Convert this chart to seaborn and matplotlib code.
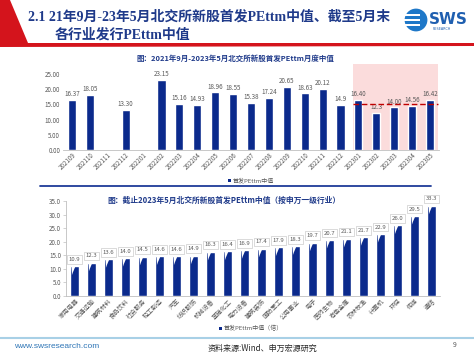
import numpy as np
import pandas as pd
import matplotlib
matplotlib.use('Agg')
import matplotlib.pyplot as plt
from matplotlib.patches import Polygon, Rectangle, Circle
from matplotlib.lines import Line2D
import seaborn as sns

# monthly median PE (ttm) of new listings on the BSE, blank = no listing that month
months = ['202109', '202110', '202111', '202112', '202201', '202202', '202203',
          '202204', '202205', '202206', '202207', '202208', '202209', '202210',
          '202211', '202212', '202301', '202302', '202303', '202304', '202305']
month_pe_text = ['16.37', '18.05', '', '13.30', '', '23.15', '15.16',
                 '14.93', '18.96', '18.55', '15.38', '17.24', '20.65', '18.63',
                 '20.12', '14.9', '16.40', '12.3', '14.00', '14.56', '16.42']
recent_ref = 15.1  # red dashed reference over 2023 months

# median issue PE by SW level-1 industry
industries = ['家用电器', '交通运输', '建筑材料', '食品饮料', '社会服务', '轻工制造',
              '汽车', '纺织服饰', '机械设备', '基础化工', '电力设备', '建筑装饰',
              '国防军工', '公用事业', '电子', '医药生物', '有色金属', '农林牧渔',
              '计算机', '环保', '传媒', '通信']
industry_pe = [10.9, 12.3, 13.6, 14.0, 14.5, 14.6, 14.6, 14.9, 16.3, 16.4, 16.9,
               17.4, 17.9, 18.3, 19.7, 20.7, 21.1, 21.7, 22.9, 26.0, 29.5, 33.3]

NAVY = '#0b2a8c'
GRAY = '#595959'
TITLE_BLUE = '#1f3a8a'
CJK = ['Noto Sans CJK SC', 'DejaVu Sans']
SERIF = ['Liberation Serif', 'Noto Sans CJK SC']

sns.set_style('white')
plt.rcParams['font.family'] = CJK
plt.rcParams['axes.unicode_minus'] = False

W, H = 474, 355
fig = plt.figure(figsize=(W / 100, H / 100), dpi=100)


def fx(x):
    return x / W


def fy(y):
    return 1 - y / H


def box(x0, y0, x1, y1):
    return [fx(x0), fy(y1), (x1 - x0) / W, (y1 - y0) / H]


# header: red slanted frame + title
red = Polygon([(fx(0), fy(0)), (fx(10), fy(0)), (fx(28), fy(43)), (fx(474), fy(43)),
               (fx(474), fy(46)), (fx(0), fy(47))],
              closed=True, transform=fig.transFigure, fc='#d4141c', ec='none')
fig.patches.append(red)
fig.text(fx(28), fy(17), '2.1 21年9月-23年5月北交所新股首发PEttm中值、截至5月末',
         fontsize=10, fontweight='bold', color=TITLE_BLUE, va='center', family=SERIF)
fig.text(fx(55), fy(35), '各行业发行PEttm中值',
         fontsize=10, fontweight='bold', color=TITLE_BLUE, va='center', family=SERIF)

# logo
lax = fig.add_axes(box(404, 8, 428, 32))
lax.set_xlim(-1, 1)
lax.set_ylim(-1, 1)
lax.set_aspect('equal')
lax.axis('off')
lax.add_patch(Circle((0, 0), 0.95, fc='#1f78c8', ec='none'))
for yy in [-0.45, 0.0, 0.45]:
    lax.add_patch(Rectangle((-1, yy - 0.08), 1.3, 0.16, fc='white', ec='none'))
fig.text(fx(429), fy(19), 'SWS', fontsize=11, fontweight='bold', color='#1f5fb0',
         va='center', family=['DejaVu Sans'])
fig.text(fx(433), fy(29.5), 'RESEARCH', fontsize=2.4, color='#1f5fb0', va='center',
         family=['DejaVu Sans'])

# ---- top chart ----
fig.text(fx(235), fy(58), '图：2021年9月-2023年5月北交所新股首发PEttm月度中值',
         fontsize=5.4, fontweight='bold', color=TITLE_BLUE, ha='center', va='center')

month_pe = [float(s) if s else np.nan for s in month_pe_text]
df1 = pd.DataFrame({'month': months, 'pe': month_pe})
ax1 = fig.add_axes(box(63, 74, 439, 150))
sns.barplot(data=df1, x='month', y='pe', order=months, color=NAVY, saturation=1,
            width=0.45, ax=ax1, zorder=2)
ax1.set_ylim(0, 25)
ax1.set_yticks(np.arange(0, 26, 5))
ax1.set_yticklabels([f'{v:.2f}' for v in np.arange(0, 26, 5)])
ax1.set_xlim(-0.5, len(months) - 0.5)
ax1.set_xlabel('')
ax1.set_ylabel('')
for s in ['left', 'top', 'right']:
    ax1.spines[s].set_visible(False)
ax1.spines['bottom'].set_color('#bfbfbf')
ax1.spines['bottom'].set_linewidth(0.6)
ax1.set_xticks(np.arange(-0.5, len(months)), minor=True)
ax1.tick_params(axis='x', which='minor', length=2, color='#bfbfbf', width=0.5)
ax1.tick_params(axis='x', which='major', length=0, pad=1)
ax1.tick_params(axis='y', length=0, pad=2, labelsize=4.5, labelcolor=GRAY)
plt.setp(ax1.get_xticklabels(), rotation=45, ha='right', rotation_mode='anchor',
         fontsize=4.5, color=GRAY)
for i, (v, t) in enumerate(zip(month_pe, month_pe_text)):
    if t:
        ax1.text(i, v + 0.6, t, ha='center', va='bottom', fontsize=4.5, color=GRAY)
ax1.add_patch(Rectangle((15.7, 0), 4.75, 28.3, fc='#fbdcdc', ec='none',
                        clip_on=False, zorder=0.5))
ax1.plot([15.7, 20.45], [recent_ref, recent_ref], ls=(0, (4, 2)), color='#c00000',
         lw=1.0, clip_on=False, zorder=3)
ax1.set_facecolor('none')

fig.patches.append(Rectangle((fx(228), fy(181.5)), 3 / W, 3 / H, transform=fig.transFigure,
                             fc=NAVY, ec='none'))
fig.text(fx(232.5), fy(180), '首发PEttm中值', fontsize=4.3, color=GRAY, va='center')
fig.add_artist(Line2D([fx(40), fx(431)], [fy(186), fy(186)], color='#1f3c99', lw=1.3))

# ---- bottom chart ----
fig.text(fx(224), fy(200), '图：截止2023年5月北交所新股首发PEttm中值（按申万一级行业）',
         fontsize=5.6, fontweight='bold', color=TITLE_BLUE, ha='center', va='center')

df2 = pd.DataFrame({'industry': industries, 'pe': industry_pe})
ax2 = fig.add_axes(box(66, 201, 440, 296))
sns.barplot(data=df2, x='industry', y='pe', order=industries, color=NAVY, saturation=1,
            width=0.5, ax=ax2, zorder=2)
ax2.set_ylim(0, 35)
ax2.set_yticks(np.arange(0, 36, 5))
ax2.set_yticklabels([f'{v:.1f}' for v in np.arange(0, 36, 5)])
ax2.set_xlim(-0.5, len(industries) - 0.5)
ax2.set_xlabel('')
ax2.set_ylabel('')
for s in ['top', 'right']:
    ax2.spines[s].set_visible(False)
for s in ['left', 'bottom']:
    ax2.spines[s].set_color('#bfbfbf')
    ax2.spines[s].set_linewidth(0.6)
ax2.set_xticks(np.arange(-0.5, len(industries)), minor=True)
ax2.tick_params(axis='x', which='minor', length=2, color='#bfbfbf', width=0.5)
ax2.tick_params(axis='x', which='major', length=0, pad=1)
ax2.tick_params(axis='y', length=2, color='#bfbfbf', width=0.5, pad=1.5,
                labelsize=4.5, labelcolor=GRAY, left=True)
plt.setp(ax2.get_xticklabels(), rotation=45, ha='right', rotation_mode='anchor',
         fontsize=4.5, color=GRAY)
for i, v in enumerate(industry_pe):
    ax2.annotate(f'{v:.1f}', xy=(i - 0.15, v - 3.2), xytext=(i, v + 2.5),
                 ha='center', va='center', fontsize=4.3, color=GRAY, zorder=4,
                 bbox=dict(boxstyle='square,pad=0.3', fc='white', ec='#bfbfbf', lw=0.4),
                 arrowprops=dict(arrowstyle='wedge,tail_width=0.9,shrink_factor=0.4',
                                 fc='white', ec='none', shrinkA=0, shrinkB=0))
ax2.set_facecolor('none')

fig.patches.append(Rectangle((fx(219), fy(329.5)), 3 / W, 3 / H, transform=fig.transFigure,
                             fc=NAVY, ec='none'))
fig.text(fx(223.5), fy(328), '首发PEttm中值（倍）', fontsize=4.3, color=GRAY, va='center')

# footer
fig.add_artist(Line2D([0, 1], [fy(338), fy(338)], color='#a8d0e6', lw=1.5))
fig.text(fx(14), fy(347), 'www.swsresearch.com', fontsize=6, color='#2e75b6',
         va='center', family=['Liberation Sans'])
fig.text(fx(208), fy(348), '资料来源:Wind、申万宏源研究', fontsize=5.8, color='#262626',
         va='center')
fig.text(fx(453), fy(345), '9', fontsize=5, color=GRAY, va='center')

fig.savefig('out.png', dpi=100)
